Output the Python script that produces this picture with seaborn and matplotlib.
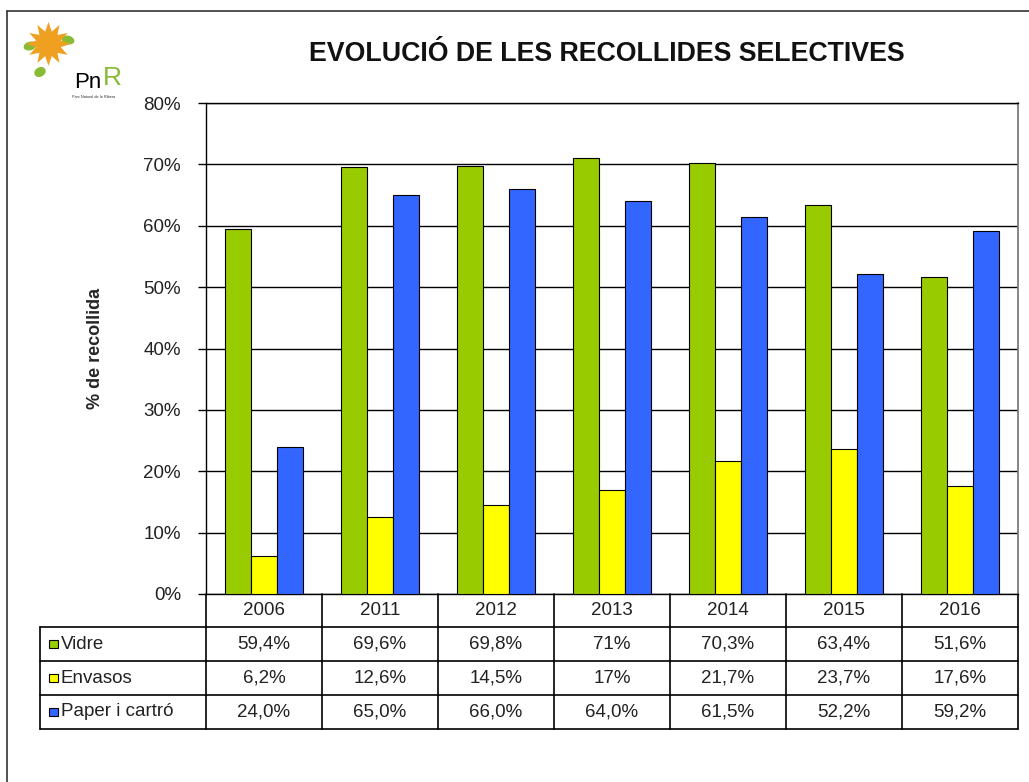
import matplotlib
matplotlib.use("Agg")
import matplotlib.pyplot as plt
import seaborn as sns
import pandas as pd
from matplotlib.lines import Line2D
from matplotlib.patches import Rectangle, Ellipse

years = ['2006', '2011', '2012', '2013', '2014', '2015', '2016']
series = ['Vidre', 'Envasos', 'Paper i cartró']
vidre = [59.4, 69.6, 69.8, 71.0, 70.3, 63.4, 51.6]
envasos = [6.2, 12.6, 14.5, 17.0, 21.7, 23.7, 17.6]
paper = [24.0, 65.0, 66.0, 64.0, 61.5, 52.2, 59.2]
decimals = [None, None, 1]   # how each row is written in the table
colors = ['#99CC00', '#FFFF00', '#3366FF']
yticks = [0, 10, 20, 30, 40, 50, 60, 70, 80]

values = [vidre, envasos, paper]
df = pd.DataFrame({
    'Any': years * 3,
    'Serie': [s for s in series for _ in years],
    'Valor': vidre + envasos + paper,
})

sns.set_theme(style="white")
plt.rcParams['font.family'] = ['Liberation Sans', 'DejaVu Sans']

fig = plt.figure(figsize=(10.29, 7.82), dpi=100)
ax = fig.add_axes([206 / 1029, 1 - 594 / 782, 812 / 1029, 491 / 782])

sns.barplot(data=df, x='Any', y='Valor', hue='Serie', palette=colors,
            width=0.67, saturation=1, edgecolor='black', linewidth=0.8,
            legend=False, ax=ax, zorder=3)

ax.set_ylim(0, 80)
ax.set_xlim(-0.5, len(years) - 0.5)
ax.set_yticks(yticks)
ax.set_yticklabels([f'{t}%' for t in yticks], fontsize=13.5, color='#222222')
ax.tick_params(axis='y', left=True, length=6, width=1, color='black', pad=12)
ax.set_xticks([])
ax.set_xlabel('')
ax.set_ylabel('% de recollida', fontsize=13, fontweight='bold', labelpad=28)
for t in yticks:
    ax.axhline(t, color='black', lw=1, zorder=1)
for side in ['left', 'bottom', 'top']:
    ax.spines[side].set_color('black')
    ax.spines[side].set_linewidth(1)
ax.spines['right'].set_color('#777777')

# data table below the plot
tr = ax.get_xaxis_transform()
row_edges = [0, -0.0672, -0.1365, -0.2057, -0.2749]
left_edge = (40 - 206) / 812
lkw = dict(color='black', lw=1.2, clip_on=False)
for y in row_edges[1:]:
    ax.plot([left_edge, 1], [y, y], transform=ax.transAxes, **lkw)
for k in range(len(years) + 1):
    ax.plot([k - 0.5, k - 0.5], [0, row_edges[-1]], transform=tr, **lkw)
ax.plot([left_edge, left_edge], [row_edges[1], row_edges[-1]], transform=ax.transAxes, **lkw)

tkw = dict(fontsize=13.5, color='#222222', va='center', ha='center')
for i, yr in enumerate(years):
    ax.text(i, (row_edges[0] + row_edges[1]) / 2, yr, transform=tr, **tkw)
for r, (name, vals, dec, col) in enumerate(zip(series, values, decimals, colors)):
    yc = (row_edges[r + 1] + row_edges[r + 2]) / 2
    for i, v in enumerate(vals):
        s = f'{v:.{dec}f}' if dec is not None else f'{v:g}'
        ax.text(i, yc, s.replace('.', ',') + '%', transform=tr, **tkw)
    ax.add_patch(Rectangle(((49 - 206) / 812, yc - 0.009), 9 / 812, 0.018,
                           facecolor=col, edgecolor='black', lw=0.8,
                           transform=ax.transAxes, clip_on=False))
    ax.text((61 - 206) / 812, yc, name, transform=ax.transAxes,
            fontsize=13.5, color='#222222', va='center', ha='left')

# title
fig.text(607 / 1029, 1 - 54 / 782, 'EVOLUCIÓ DE LES RECOLLIDES SELECTIVES',
         ha='center', va='center', fontsize=19.3, fontweight='bold', color='#111111')

# outer frame (left and top edges visible)
fig.add_artist(Line2D([7 / 1029, 7 / 1029], [0, 1 - 11 / 782], color='#333333', lw=1.2))
fig.add_artist(Line2D([7 / 1029, 1], [1 - 11 / 782, 1 - 11 / 782], color='#333333', lw=1.2))

# rough logo
fig.text(48 / 1029, 1 - 48 / 782, '✹', fontsize=42, color='#F0A020',
         ha='center', va='center', family=['DejaVu Sans'])
for (lx, ly, ang) in [(30, 46, 30), (68, 40, -30), (40, 72, 60)]:
    fig.add_artist(Ellipse((lx / 1029, 1 - ly / 782), 12 / 1029, 7 / 782, angle=ang,
                           color='#88BB33', transform=fig.transFigure))
fig.text(88 / 1029, 1 - 82 / 782, 'Pn', fontsize=16, color='black', ha='center', va='center')
fig.text(112 / 1029, 1 - 78 / 782, 'R', fontsize=19, color='#88BB33', ha='center', va='center')
fig.text(94 / 1029, 1 - 97 / 782, 'Parc Natural de la Ribera', fontsize=2.8,
         color='#333333', ha='center', va='center')

fig.savefig('out.png', dpi=100)
